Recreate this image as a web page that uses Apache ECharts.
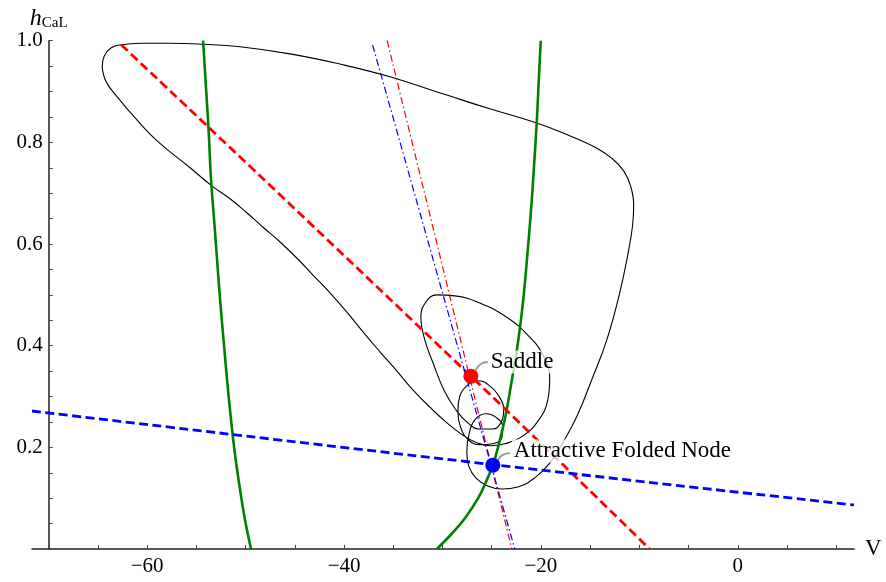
<!DOCTYPE html>
<html><head><meta charset="utf-8">
<script src="https://cdn.jsdelivr.net/npm/echarts@6/dist/echarts.min.js"></script>
<style>html,body{margin:0;padding:0;background:#fff}#c{width:886px;height:582px}</style>
</head><body><div id="c"></div>
<script>
// ---- data (V in mV, h_CaL) ----
const trajectory = [
 [-64.57,0.948],[-64.36,0.970],[-63.65,0.986],[-62.64,0.992],[-60.71,0.995],[-57.67,0.995],
 [-54.32,0.993],[-50.56,0.988],[-45.49,0.974],[-40.42,0.954],[-35.34,0.929],[-29.56,0.893],
 [-25.20,0.866],[-20.43,0.838],[-17.08,0.813],[-14.54,0.791],[-12.82,0.769],[-11.60,0.744],
 [-10.89,0.714],[-10.58,0.677],[-10.69,0.637],[-11.09,0.588],[-12.00,0.504],[-13.32,0.411],
 [-14.74,0.338],[-16.37,0.260],[-17.79,0.209],[-19.11,0.169],[-20.63,0.140],[-22.35,0.122],
 [-23.98,0.118],[-25.40,0.124],[-26.62,0.140],[-27.33,0.163],[-27.53,0.191],
 [-27.33,0.224],[-26.72,0.254],[-25.60,0.266],[-24.49,0.258],[-23.88,0.240],[-23.98,0.218],
 [-24.89,0.207],[-26.21,0.205],[-27.33,0.214],
 [-28.14,0.238],[-28.44,0.270],[-28.24,0.301],[-27.53,0.321],[-26.41,0.331],[-25.20,0.321],
 [-24.28,0.301],[-23.78,0.275],[-23.98,0.252],[-24.89,0.236],[-26.21,0.236],[-27.43,0.248],
 [-28.65,0.274],[-29.86,0.313],[-30.88,0.362],[-31.79,0.411],[-32.20,0.455],[-31.69,0.486],
 [-30.57,0.500],[-28.75,0.498],[-26.21,0.484],[-23.47,0.456],[-21.34,0.421],[-19.82,0.382],
 [-19.11,0.336],[-19.31,0.293],[-20.22,0.254],[-21.85,0.222],[-23.67,0.207],[-25.20,0.203],
 [-26.52,0.209],[-27.94,0.224],[-29.66,0.250],[-31.28,0.279],[-33.01,0.313],[-34.63,0.350],
 [-36.36,0.388],[-38.08,0.427],[-39.71,0.466],[-41.43,0.504],[-43.16,0.539],[-44.78,0.572],
 [-46.50,0.604],[-48.23,0.633],[-49.85,0.661],[-51.58,0.689],[-53.40,0.714],[-55.64,0.750],
 [-58.99,0.803],[-61.22,0.848],[-62.94,0.887],[-64.16,0.919],[-64.57,0.948]
];
const nullclineLeft = [
 [-54.32,1.0],[-54.01,0.903],[-53.76,0.824],[-53.51,0.726],[-53.20,0.647],[-52.90,0.569],
 [-52.59,0.490],[-52.24,0.411],[-51.88,0.332],[-51.48,0.254],[-51.07,0.185],[-50.56,0.116],
 [-50.06,0.057],[-49.45,0.0]
];
const nullclineRight = [
 [-30.57,0.0],[-29.06,0.030],[-27.74,0.060],[-26.38,0.100],[-25.63,0.130],[-24.89,0.165],
 [-24.36,0.200],[-23.62,0.260],[-22.96,0.332],[-22.30,0.411],[-21.80,0.490],[-21.34,0.588],
 [-20.93,0.687],[-20.73,0.746],[-20.43,0.838],[-20.22,0.923],[-20.02,1.0]
];
const redDashed = [[-62.64,0.992],[-27.12,0.340],[-8.96,0.0]];
const blueDashed = [[-71.7,0.2715],[-24.89,0.166],[11.8,0.0866]];
const redDashDot = [[-35.62,1.0],[-22.96,0.0]];
const blueDashDot = [[-37.10,0.9915],[-22.66,0.0]];
const saddlePoint = [[-27.12,0.340]];
const nodePoint = [[-24.89,0.165]];
const saddleLeader = [[-26.62,0.352],[-26.11,0.364],[-25.40,0.368]];
const nodeLeader = [[-24.38,0.175],[-23.88,0.185],[-23.17,0.189]];
const saddleLabelAt = [[-25.30,0.368]];
const nodeLabelAt = [[-22.96,0.193]];
const xTickValues = [-70,-65,-60,-55,-50,-45,-40,-35,-30,-25,-20,-15,-10,-5,0,5,10];
const xLabelValues = [-60,-40,-20,0];
const yTickValues = [0,0.05,0.1,0.15,0.2,0.25,0.3,0.35,0.4,0.45,0.5,0.55,0.6,0.65,0.7,0.75,0.8,0.85,0.9,0.95,1.0];
const yLabelValues = [0.2,0.4,0.6,0.8,1.0];

const FONT = 'Liberation Serif';
const chart = echarts.init(document.getElementById('c'), null, {renderer:'canvas'});
function line(data, color, width, type, z, smooth){
  return {type:'line', data:data, showSymbol:false, symbol:'none', smooth:smooth||false, z:z,
    lineStyle:{color:color, width:width, type:type}, silent:true, clip:true};
}
function label(data, text){
  return {type:'scatter', data:data, symbolSize:0, z:20, silent:true,
    itemStyle:{opacity:1},
    label:{show:true, position:'right', distance:0, formatter:text, fontFamily:FONT, fontSize:23,
      color:'#000', opacity:1, backgroundColor:'rgba(255,255,255,0.75)', padding:[0,2,0,2]}};
}
chart.setOption({
  animation:false,
  backgroundColor:'#fff',
  grid:{left:32, right:32, top:40.7, bottom:33, containLabel:false},
  xAxis:{type:'value', min:-71.7, max:11.8,
    name:'V', nameLocation:'end', nameGap:11,
    nameTextStyle:{fontFamily:FONT, fontSize:23, color:'#000', verticalAlign:'middle'},
    axisLine:{onZero:false, lineStyle:{color:'#222', width:1.5}},
    axisTick:{show:true, inside:true, length:4, customValues:xTickValues, lineStyle:{color:'#444', width:1}},
    axisLabel:{customValues:xLabelValues, margin:7, fontFamily:FONT, fontSize:21, color:'#000',
      formatter:v=> v<0 ? '\u2212'+Math.abs(v) : String(v)},
    splitLine:{show:false}},
  yAxis:{type:'value', min:0, max:1, offset:-16.75,
    name:'{h|h}{s|CaL}', nameLocation:'end', nameGap:8,
    nameTextStyle:{rich:{
      h:{fontFamily:FONT, fontStyle:'italic', fontSize:24, color:'#000'},
      s:{fontFamily:FONT, fontSize:15, color:'#000', padding:[9,0,0,0]}}},
    axisLine:{show:true, onZero:false, lineStyle:{color:'#222', width:1.5}},
    axisTick:{show:true, inside:true, length:4, customValues:yTickValues, lineStyle:{color:'#444', width:1}},
    axisLabel:{customValues:yLabelValues, margin:6, fontFamily:FONT, fontSize:21, color:'#000',
      formatter:v=>v.toFixed(1)},
    splitLine:{show:false}},
  series:[
    line(trajectory, '#000', 1.1, 'solid', 2, 0.45),
    line(nullclineLeft, '#008000', 2.6, 'solid', 3, 0.4),
    line(nullclineRight, '#008000', 2.6, 'solid', 3, 0.4),
    line(redDashed, '#ff0000', 2.8, [9,4.5], 4, true),
    line(blueDashed, '#0000ff', 2.8, [9,4.5], 4, true),
    line(redDashDot, '#ff0000', 1.2, [7,3,1.5,3], 5),
    line(blueDashDot, '#0000ff', 1.2, [7,3,1.5,3], 5),
    line(saddleLeader, '#999', 2, 'solid', 6, true),
    line(nodeLeader, '#999', 2, 'solid', 6, true),
    {type:'scatter', data:saddlePoint, symbolSize:15, z:10, itemStyle:{color:'#ff0000', opacity:1}, silent:true},
    {type:'scatter', data:nodePoint, symbolSize:15, z:10, itemStyle:{color:'#0000ff', opacity:1}, silent:true},
    label(saddleLabelAt, 'Saddle'),
    label(nodeLabelAt, 'Attractive Folded Node')
  ]
});
</script></body></html>
